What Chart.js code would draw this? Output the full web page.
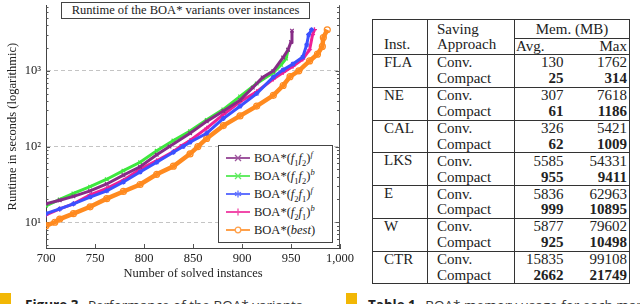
<!DOCTYPE html>
<html>
<head>
<meta charset="utf-8">
<script src="https://cdn.jsdelivr.net/npm/chart.js@4/dist/chart.umd.min.js"></script>
<style>
  html, body { margin: 0; padding: 0; background: #fff; }
  body { width: 640px; height: 304px; overflow: hidden; position: relative; font-family: "Liberation Serif", serif; color: #222; }
  #chartBox { position: absolute; left: 0; top: 0; width: 360px; height: 290px; }
  #plotTitle { position: absolute; left: 61px; top: 2px; width: 247px; height: 15px; border: 1px solid #444; background: #fff;
    font-size: 12.5px; line-height: 15px; text-align: center; white-space: nowrap; }
  #legend { position: absolute; left: 218px; top: 145px; width: 113px; height: 93px; border: 1px solid #444; background: #fff;
    padding-top: 3px; box-sizing: content-box; }
  #legend .row { height: 18px; display: flex; align-items: center; font-size: 12.5px; white-space: nowrap; }
  #legend svg { margin-left: 6px; margin-right: 3px; flex: none; }
  #legend sub, #legend sup { font-size: 8.5px; line-height: 0; }
  #memTable { position: absolute; left: 372px; top: 19px; border-collapse: collapse; table-layout: fixed; font-size: 15px; }
  #memTable td { padding: 0; line-height: 15px; white-space: nowrap; }
  #memTable .b { font-weight: bold; }
  .cap { position: absolute; top: 296px; font-family: "Open Sans", sans-serif; font-size: 13.5px; color: #333; white-space: nowrap; }
  .cap b { color: #222; margin-right: 6px; }
  .sq { position: absolute; top: 293px; width: 11px; height: 11px; background: #f2b705; }
</style>
</head>
<body>
<div id="chartBox"><canvas id="runtimeChart" width="360" height="290"></canvas></div>
<div id="plotTitle">Runtime of the BOA* variants over instances</div>
<div id="legend"></div>
<table id="memTable"></table>
<div class="sq" style="left:0"></div>
<div class="cap" style="left:25px"><b>Figure 3</b> Performance of the BOA* variants</div>
<div class="sq" style="left:346px"></div>
<div class="cap" style="left:368px"><b>Table 1</b> BOA* memory usage for each map</div>

<script>
// --- chart data ---
const xF1F2f = [700, 714, 728, 745, 762, 779, 796, 813, 826, 847, 864, 881, 898, 911, 921, 932, 942, 947, 950, 951];
const yF1F2f = [17.5, 19.5, 22, 26, 32, 42, 54, 78, 100, 150, 215, 295, 410, 600, 820, 1000, 1500, 1900, 2400, 3400];

const xF1F2b = [700, 714, 728, 745, 762, 779, 796, 813, 830, 847, 864, 881, 898, 915, 932, 940, 945, 947];
const yF1F2b = [16.5, 20, 24, 29.5, 37, 48, 62, 88, 120, 160, 225, 310, 460, 680, 950, 1200, 1450, 1900];

const xF2F1f = [700, 714, 728, 745, 762, 779, 796, 813, 830, 840, 847, 864, 881, 898, 915, 932, 942, 952, 962, 966, 968, 971];
const yF2F1f = [13, 15, 17.5, 21.5, 26, 34, 46, 62, 84, 100, 114, 150, 235, 340, 500, 830, 1030, 1230, 1520, 2200, 3000, 3500];

const xF2F1b = [700, 714, 728, 745, 762, 779, 796, 813, 830, 837, 847, 864, 881, 898, 915, 932, 942, 952, 962, 969, 972, 974];
const yF2F1b = [12.5, 15, 17.5, 23, 28, 36, 50, 65, 86, 100, 120, 175, 265, 390, 530, 780, 950, 1150, 1430, 1900, 3000, 3500];

const xBest = [700, 709, 714, 728, 745, 762, 779, 796, 813, 830, 847, 855, 864, 881, 898, 915, 932, 942, 949, 958, 969, 977, 982, 983, 987];
const yBest = [9, 10, 11, 13, 16, 20.5, 25.5, 31.5, 43, 55, 80, 100, 128, 189, 254, 342, 475, 640, 836, 1000, 1350, 1660, 2100, 2750, 3480];

const seriesNames = ["BOA*(f1f2)f", "BOA*(f1f2)b", "BOA*(f2f1)f", "BOA*(f2f1)b", "BOA*(best)"];
const seriesLabelsHtml = [
  'BOA*(<i>f</i><sub>1</sub><i>f</i><sub>2</sub>)<sup><i>f</i></sup>',
  'BOA*(<i>f</i><sub>1</sub><i>f</i><sub>2</sub>)<sup><i>b</i></sup>',
  'BOA*(<i>f</i><sub>2</sub><i>f</i><sub>1</sub>)<sup><i>f</i></sup>',
  'BOA*(<i>f</i><sub>2</sub><i>f</i><sub>1</sub>)<sup><i>b</i></sup>',
  'BOA*(<i>best</i>)',
];
const seriesColors = ["#862c86", "#3ee83e", "#3b50ff", "#ee1f95", "#ff8a1f"];
const seriesMarkers = ["crossRot", "crossRot", "star", "cross", "circle"];

const xTicks = [700, 750, 800, 850, 900, 950, 1000];
const yMajorTicks = [10, 100, 1000];
const yMinorTicks = [5, 6, 7, 8, 9, 20, 30, 40, 50, 60, 70, 80, 90, 200, 300, 400, 500, 600, 700, 800, 900, 2000, 3000, 4000, 5000, 6000, 7000];

// --- table data ---
const instances = ["FLA", "NE", "CAL", "LKS", "E", "W", "CTR"];
const convAvg = [130, 307, 326, 5585, 5836, 5877, 15835];
const convMax = [1762, 7618, 5421, 54331, 62963, 79602, 99108];
const compactAvg = [25, 61, 62, 955, 999, 925, 2662];
const compactMax = [314, 1186, 1009, 9411, 10895, 10498, 21749];

const xs = [xF1F2f, xF1F2b, xF2F1f, xF2F1b, xBest];
const ys = [yF1F2f, yF1F2b, yF2F1f, yF2F1b, yBest];

const sup = { 1: "¹", 2: "²", 3: "³" };

// рамка справа и засечки внутрь графика
const frameTicks = {
  id: "frameTicks",
  beforeDatasetsDraw(chart) {
    const { ctx, chartArea: a, scales: { x, y } } = chart;
    ctx.save();
    ctx.strokeStyle = "#555";
    ctx.lineWidth = 1;
    ctx.beginPath();
    ctx.moveTo(a.right - 0.5, a.top);
    ctx.lineTo(a.right - 0.5, a.bottom);
    yMinorTicks.forEach((v) => {
      const p = Math.round(y.getPixelForValue(v)) + 0.5;
      ctx.moveTo(a.left, p); ctx.lineTo(a.left + 2.5, p);
      ctx.moveTo(a.right, p); ctx.lineTo(a.right - 3, p);
    });
    yMajorTicks.forEach((v) => {
      const p = Math.round(y.getPixelForValue(v)) + 0.5;
      ctx.moveTo(a.left, p); ctx.lineTo(a.left + 4, p);
      ctx.moveTo(a.right, p); ctx.lineTo(a.right - 4.5, p);
    });
    xTicks.forEach((v) => {
      const p = Math.round(x.getPixelForValue(v)) + 0.5;
      ctx.moveTo(p, a.bottom); ctx.lineTo(p, a.bottom - 4);
    });
    ctx.stroke();
    ctx.restore();
  },
};

Chart.defaults.font.family = "'Liberation Serif', serif";
Chart.defaults.color = "#222";

const datasets = seriesNames.map((name, i) => ({
  label: name,
  data: xs[i].map((v, k) => ({ x: v, y: ys[i][k] })),
  borderColor: seriesColors[i],
  backgroundColor: i === 4 ? "rgba(255,255,255,0)" : seriesColors[i],
  borderWidth: i === 4 ? 4.5 : 3,
  pointStyle: seriesMarkers[i],
  pointRadius: i === 4 ? 3 : 2.5,
  pointBorderWidth: 1.2,
  tension: 0,
}));

new Chart(document.getElementById("runtimeChart"), {
  type: "line",
  data: { datasets },
  plugins: [frameTicks],
  options: {
    responsive: false,
    devicePixelRatio: 1,
    animation: false,
    layout: { padding: { left: 0, right: 20, top: 0, bottom: 0 } },
    plugins: { legend: { display: false }, tooltip: { enabled: false } },
    scales: {
      x: {
        type: "linear",
        min: 700,
        max: 1000,
        afterBuildTicks: (s) => { s.ticks = xTicks.map((v) => ({ value: v })); },
        afterFit: (s) => { s.height = 42; s.paddingLeft = 0; s.paddingRight = 0; },
        ticks: { padding: 3, font: { size: 12.5 }, maxRotation: 0 },
        grid: { display: false, drawTicks: false },
        border: { display: true, color: "#444" },
        title: { display: true, text: "Number of solved instances", font: { size: 12.5 }, padding: { top: 0, bottom: 9 } },
      },
      y: {
        type: "logarithmic",
        min: 4.57,
        max: 7360,
        afterBuildTicks: (s) => { s.ticks = yMajorTicks.map((v) => ({ value: v })); },
        afterFit: (s) => { s.width = 46; s.paddingTop = 0; s.paddingBottom = 0; },
        ticks: { padding: 5, font: { size: 12.5 }, callback: (v) => "10" + sup[Math.round(Math.log10(v))] },
        grid: { drawTicks: false, color: "#c4c4c4", lineWidth: 1 },
        border: { display: true, color: "#444", dash: [4, 3] },
        title: { display: true, text: "Runtime in seconds (logarithmic)", font: { size: 12.5 }, padding: { top: 5, bottom: 0 } },
      },
    },
  },
});

// --- legend ---
function markerSvg(style, color) {
  const m = {
    crossRot: '<path d="M10 3L16 9M16 3L10 9"/>',
    star: '<path d="M13 2.5V9.5M10 4.2L16 7.8M16 4.2L10 7.8"/>',
    cross: '<path d="M13 2.5V9.5M9.5 6H16.5"/>',
    circle: '<circle cx="13" cy="6" r="2.8" fill="#fff"/>',
  }[style];
  return `<svg width="26" height="12"><g stroke="${color}" stroke-width="1.3" fill="none" opacity="0.8">` +
    `<path d="M1 6H25" stroke-width="2"/>${m}</g></svg>`;
}
document.getElementById("legend").innerHTML = seriesLabelsHtml
  .map((lbl, i) => `<div class="row">${markerSvg(seriesMarkers[i], seriesColors[i])}<span>${lbl}</span></div>`)
  .join("");

// --- table ---
const line = "1px solid #333";
let html = `<colgroup><col style="width:55px"><col style="width:87px"><col style="width:52px"><col style="width:63px"></colgroup>`;
html += `<tr style="height:19px"><td rowspan="2" style="border:${line};border-right:${line};vertical-align:bottom;padding-left:11px;padding-bottom:2px">Inst.</td>` +
  `<td rowspan="2" style="border:${line};padding-left:9px;line-height:15px;vertical-align:top;padding-top:2px">Saving<br>Approach</td>` +
  `<td colspan="2" style="border:${line};text-align:center;vertical-align:bottom;padding-bottom:1px">Mem. (MB)</td></tr>`;
html += `<tr style="height:14px"><td style="border-bottom:${line};padding-left:1px">Avg.</td>` +
  `<td style="border-bottom:${line};border-right:${line};text-align:right;padding-right:2px">Max</td></tr>`;
instances.forEach((inst, i) => {
  html += `<tr style="height:16.4px"><td rowspan="2" style="border:${line};vertical-align:top;padding-left:11px">${inst}</td>` +
    `<td style="border-left:${line};border-right:${line};padding-left:9px">Conv.</td>` +
    `<td style="text-align:right;padding-right:3px">${convAvg[i]}</td>` +
    `<td style="text-align:right;padding-right:2px;border-right:${line}">${convMax[i]}</td></tr>`;
  html += `<tr style="height:16.4px"><td style="border-left:${line};border-right:${line};border-bottom:${line};padding-left:9px">Compact</td>` +
    `<td class="b" style="text-align:right;padding-right:3px;border-bottom:${line}">${compactAvg[i]}</td>` +
    `<td class="b" style="text-align:right;padding-right:2px;border-bottom:${line};border-right:${line}">${compactMax[i]}</td></tr>`;
});
document.getElementById("memTable").innerHTML = html;
</script>
</body>
</html>
